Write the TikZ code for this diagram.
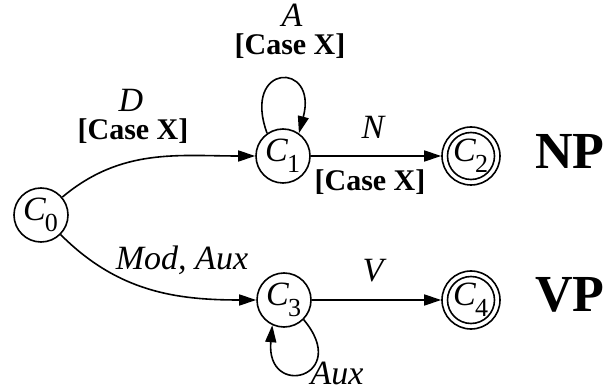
\documentclass[tikz,border=0pt]{standalone}
\usepackage{fontspec}
\setmainfont{Liberation Serif}
\usetikzlibrary{arrows.meta}
\begin{document}
\begin{tikzpicture}[x=1pt,y=1pt,
  line width=1.6pt,
  state/.style={circle,draw,line width=1.6pt,minimum size=54pt,inner sep=0pt,
    font=\fontsize{34}{34}\selectfont},
  finalstate/.style={state,minimum size=58pt},
  arr/.style={-{Triangle[length=17pt,width=11pt]}},
  lbl/.style={font=\fontsize{34}{34}\selectfont\itshape,inner sep=0pt},
  case/.style={font=\fontsize{30}{30}\selectfont\bfseries,inner sep=0pt},
  big/.style={font=\fontsize{52}{52}\selectfont\bfseries,inner sep=0pt}]
\newcommand{\stname}[1]{\kern-1pt\textit{C}\kern-1pt\raisebox{-0.32em}{\fontsize{26}{26}\selectfont #1}}
\useasboundingbox (0,0) rectangle (610,391);
\node[state] (c0) at (41,176) {\stname{0}};
\node[state] (c1) at (283,235) {\stname{1}};
\node[finalstate] (c2) at (471,235) {\stname{2}};
\node[state] (c3) at (284,91) {\stname{3}};
\node[finalstate] (c4) at (471,91) {\stname{4}};
\draw (c2.center) circle (23.5pt);
\draw (c4.center) circle (23.5pt);
\node[big] (np) at (570,240) {NP};
\node[big] (vp) at (570,96) {VP};
% edges
\draw[arr] (c0) to[out=40,in=180] (c1);
\draw[arr] (c0) to[out=-45,in=180] (c3);
\draw[arr] (c1) -- (c2);
\draw[arr] (c3) -- (c4);
\draw[arr] (c1.125) .. controls +(110:75) and +(75:75) .. (c1.55);
\draw[arr] (c3.-45) .. controls +(-50:75) and +(-95:75) .. (c3.-115);
% labels
\node[lbl] (ld) at (131,291) {D};
\node[case] (ldc) at (133,260) {[Case X]};
\node[lbl] (la) at (292,376) {A};
\node[case] (lac) at (290,345) {[Case X]};
\node[lbl] (ln) at (373,264) {N};
\node[case] (lnc) at (370,209) {[Case X]};
\node[lbl] (lm) at (182,131) {Mod, Aux};
\node[lbl] (lv) at (373,120) {V};
\node[lbl] (lx) at (337,18) {Aux};
\end{tikzpicture}
\end{document}
